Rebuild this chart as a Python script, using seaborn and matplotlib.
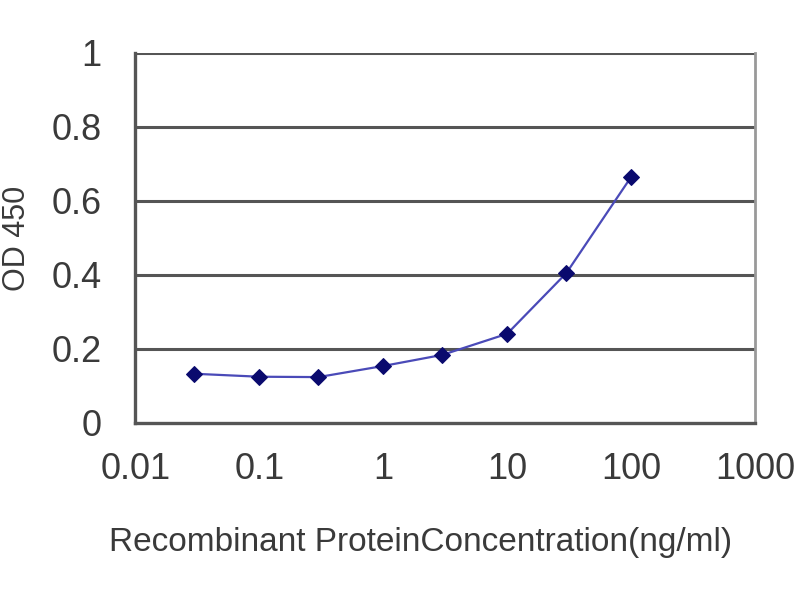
import seaborn as sns
import matplotlib.pyplot as plt
import pandas as pd

# concentration (ng/ml) and OD450 readings
conc = [0.03, 0.1, 0.3, 1, 3, 10, 30, 100]
od450 = [0.133, 0.125, 0.124, 0.154, 0.184, 0.241, 0.405, 0.665]
x_ticks = [0.01, 0.1, 1, 10, 100, 1000]
x_tick_labels = ["0.01", "0.1", "1", "10", "100", "1000"]
y_ticks = [0, 0.2, 0.4, 0.6, 0.8, 1]
y_tick_labels = ["0", "0.2", "0.4", "0.6", "0.8", "1"]

df = pd.DataFrame({"conc": conc, "od": od450})

sns.set_style("white")
plt.rcParams['font.family'] = ['Liberation Sans', 'DejaVu Sans']

fig = plt.figure(figsize=(8, 6), dpi=100)
ax = fig.add_axes([0.169, 0.295, 0.775, 0.617])

for y in y_ticks[1:]:
    ax.axhline(y, color="#555555", lw=2.2, zorder=1)

sns.lineplot(data=df, x="conc", y="od", ax=ax, color="#4a4ab8", lw=1.6,
             marker="D", markersize=8, markerfacecolor="#0a0a6e",
             markeredgecolor="#0a0a6e", zorder=3)

ax.set_xscale("log")
ax.set_xlim(0.01, 1000)
ax.set_ylim(0, 1)
ax.set_xticks(x_ticks)
ax.set_xticklabels(x_tick_labels)
ax.minorticks_off()
ax.set_yticks(y_ticks)
ax.set_yticklabels(y_tick_labels)

for s in ["left", "bottom"]:
    ax.spines[s].set_color("#555555")
    ax.spines[s].set_linewidth(2.4)
ax.spines["top"].set_visible(False)
ax.spines["right"].set_color("#999999")
ax.spines["right"].set_linewidth(2)

ax.tick_params(axis="x", direction="in", length=8, width=2, color="#555555",
               pad=21, labelsize=26, labelcolor="#3a3a3a")
ax.tick_params(axis="y", length=0, pad=24, labelsize=26, labelcolor="#3a3a3a")

ax.set_xlabel("Recombinant ProteinConcentration(ng/ml)", fontsize=24,
              color="#3a3a3a")
ax.xaxis.set_label_coords(0.461, -0.28)
ax.set_ylabel("OD 450", fontsize=22, color="#3a3a3a", labelpad=14)

fig.savefig("out.png", dpi=100)
